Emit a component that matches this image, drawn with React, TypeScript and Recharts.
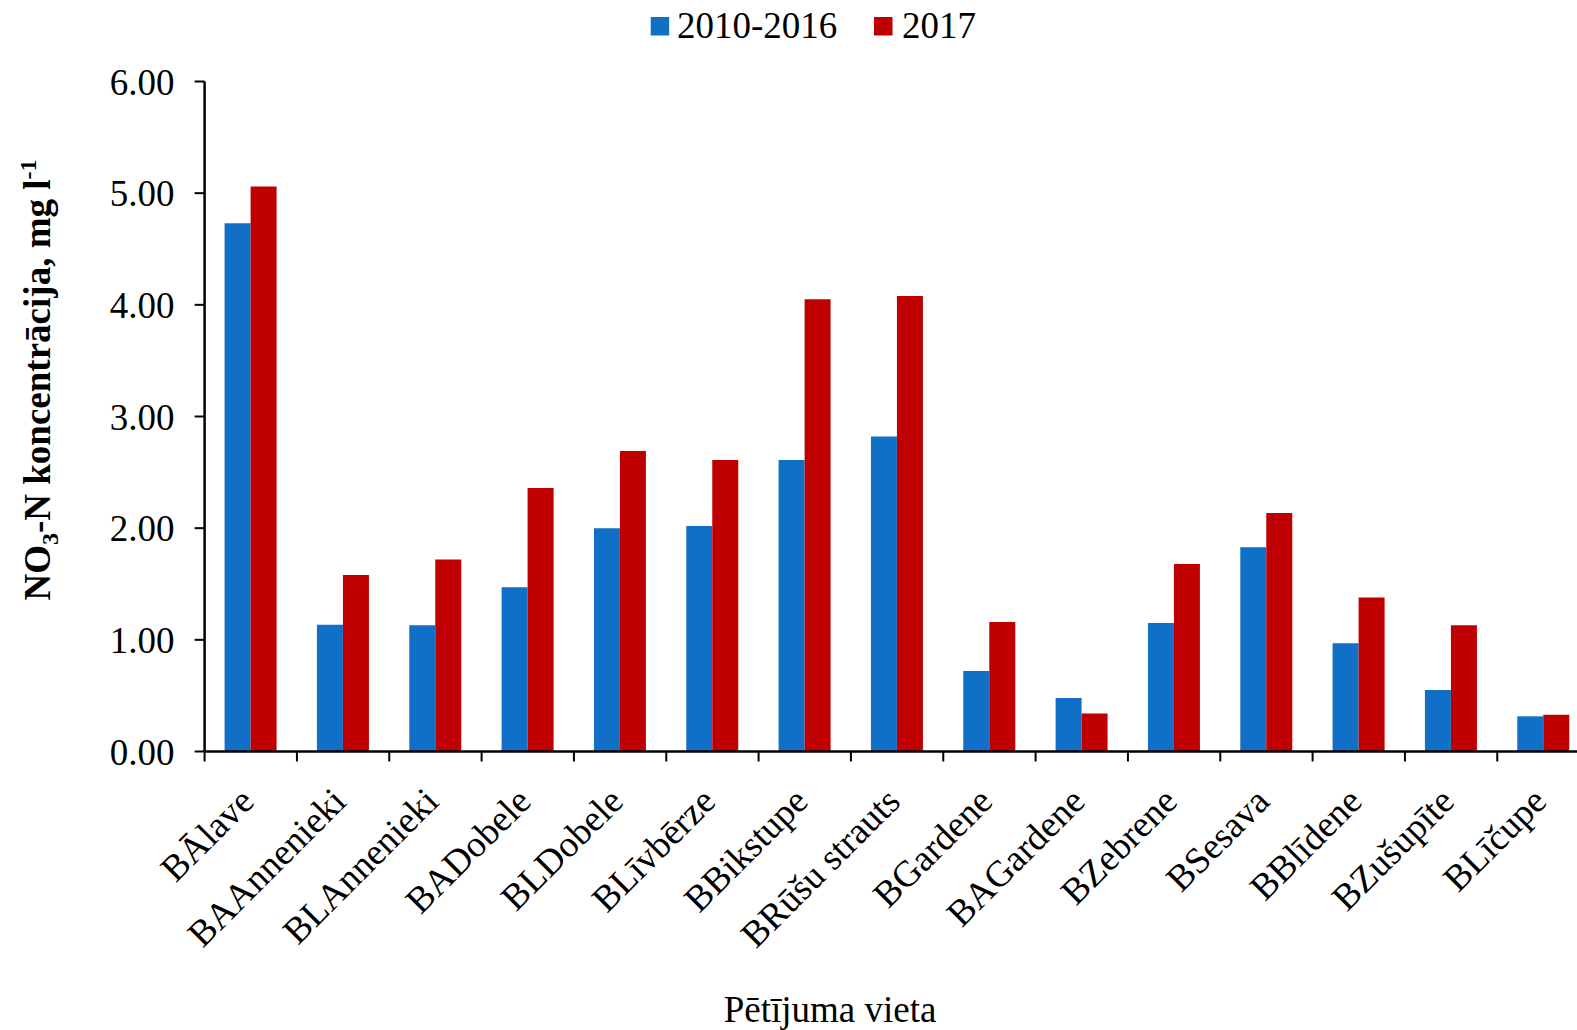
import React from 'react';
import { BarChart, Bar, XAxis, YAxis, Legend } from 'recharts';

const categories = ['BĀlave', 'BAAnnenieki', 'BLAnnenieki', 'BADobele', 'BLDobele', 'BLīvbērze', 'BBikstupe', 'BRūšu strauts', 'BGardene', 'BAGardene', 'BZebrene', 'BSesava', 'BBlīdene', 'BZušupīte', 'BLīčupe'];
const series2010 = [4.73, 1.135, 1.13, 1.47, 2.0, 2.02, 2.61, 2.82, 0.72, 0.48, 1.15, 1.83, 0.97, 0.55, 0.315];
const series2017 = [5.06, 1.58, 1.72, 2.36, 2.69, 2.61, 4.05, 4.08, 1.16, 0.34, 1.68, 2.135, 1.38, 1.13, 0.33];
const yTicks = [0, 1, 2, 3, 4, 5, 6];
const seriesNames = ['2010-2016', '2017'];

const BLUE = '#1070C8';
const RED = '#C00000';
const FONT = "'Liberation Serif', 'Times New Roman', serif";
const FS = 37;

const CHART_W = 1600;
const CHART_H = 1030;
const PLOT_LEFT = 204.6;
const PLOT_RIGHT = 1589.6;
const PLOT_TOP = 81.5;
const PLOT_BOTTOM = 751.5;
const BAND = (PLOT_RIGHT - PLOT_LEFT) / categories.length;

const data = categories.map((c, i) => ({ name: c, a: series2010[i], b: series2017[i] }));

const XTick = (props: any) => {
  const { x, y, payload } = props;
  return (
    <g transform={`translate(${x},${y})`}>
      <line x1={-BAND / 2} x2={-BAND / 2} y1={0} y2={10} stroke="#000" strokeWidth={2} />
      <text
        x={0}
        y={0}
        transform="translate(5,52) rotate(-45)"
        textAnchor="end"
        fontFamily={FONT}
        fontSize={FS}
        fill="#000"
      >
        {payload.value}
      </text>
    </g>
  );
};

const LegendContent = () => (
  <svg width={CHART_W} height={PLOT_TOP} style={{ display: 'block' }}>
    <rect x={650.7} y={17} width={18.5} height={18.5} fill={BLUE} />
    <text x={677} y={38} fontFamily={FONT} fontSize={FS} fill="#000">{seriesNames[0]}</text>
    <rect x={874} y={17} width={18.5} height={18.5} fill={RED} />
    <text x={902} y={38} fontFamily={FONT} fontSize={FS} fill="#000">{seriesNames[1]}</text>
  </svg>
);

const YLabel = () => (
  <text
    x={50}
    y={380}
    transform="rotate(-90 50 380)"
    textAnchor="middle"
    fontFamily={FONT}
    fontSize={FS}
    fontWeight="bold"
    fill="#000"
  >
    NO<tspan dy={8} fontSize={24}>3</tspan>
    <tspan dy={-8}>-N koncentrācija, mg l</tspan>
    <tspan dy={-14} fontSize={24}>-1</tspan>
  </text>
);

const XLabel = () => (
  <text x={830} y={1022} textAnchor="middle" fontFamily={FONT} fontSize={FS} fill="#000">
    Pētījuma vieta
  </text>
);

export default function App() {
  return (
    <div style={{ position: 'fixed', left: 0, top: 0, width: 1577, height: 1030, overflow: 'hidden', background: '#fff' }}>
      <BarChart
        width={CHART_W}
        height={CHART_H}
        data={data}
        margin={{ top: 0, right: CHART_W - PLOT_RIGHT, bottom: 0, left: 0 }}
        barCategoryGap={20}
        barGap={0}
      >
        <Legend
          verticalAlign="top"
          align="left"
          height={PLOT_TOP}
          wrapperStyle={{ left: 0, top: 0, width: CHART_W }}
          content={<LegendContent />}
        />
        <XAxis
          dataKey="name"
          interval={0}
          height={CHART_H - PLOT_BOTTOM}
          tickSize={0}
          tickMargin={0}
          tickLine={false}
          axisLine={{ stroke: '#000', strokeWidth: 2.5 }}
          tick={<XTick />}
          label={{ content: () => <XLabel /> }}
        />
        <YAxis
          width={PLOT_LEFT}
          domain={[0, 6]}
          ticks={yTicks}
          interval={0}
          tickFormatter={(v: number) => v.toFixed(2)}
          tickSize={10}
          tickMargin={20}
          tickLine={{ stroke: '#000', strokeWidth: 2 }}
          axisLine={{ stroke: '#000', strokeWidth: 2.5 }}
          tick={{ fontFamily: FONT, fontSize: FS, fill: '#000' }}
          label={{ content: () => <YLabel /> }}
        />
        <Bar dataKey="a" name={seriesNames[0]} fill={BLUE} isAnimationActive={false} />
        <Bar dataKey="b" name={seriesNames[1]} fill={RED} isAnimationActive={false} />
      </BarChart>
    </div>
  );
}
